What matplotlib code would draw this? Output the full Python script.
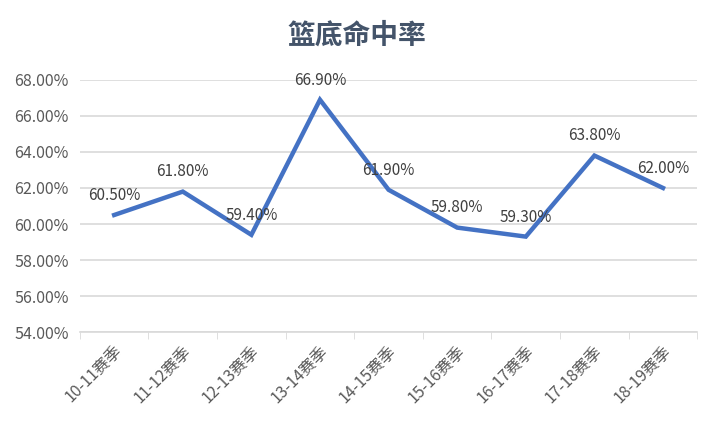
import matplotlib
matplotlib.use("Agg")
import matplotlib.pyplot as plt
import numpy as np

plt.rcParams['font.family'] = ['Noto Sans CJK SC', 'DejaVu Sans']

# data
seasons = ["10-11赛季", "11-12赛季", "12-13赛季", "13-14赛季", "14-15赛季",
           "15-16赛季", "16-17赛季", "17-18赛季", "18-19赛季"]
rates = [60.5, 61.8, 59.4, 66.9, 61.9, 59.8, 59.3, 63.8, 62.0]
y_ticks = [54, 56, 58, 60, 62, 64, 66, 68]

fig = plt.figure(figsize=(7.13, 4.23), dpi=100)
ax = fig.add_axes([0.112, 0.215, 0.866, 0.596])

x = np.arange(len(seasons))
ax.plot(x, rates, color="#4472C4", linewidth=3.2, solid_joinstyle="miter")

for xi, v in zip(x, rates):
    ax.annotate(f"{v:.2f}%", (xi, v), xytext=(0, 8), textcoords="offset points",
                ha="center", va="bottom", fontsize=11, color="#404040")

ax.set_xlim(-0.5, len(seasons) - 0.5)
ax.set_ylim(54, 68)
ax.set_yticks(y_ticks)
ax.set_yticklabels([f"{t:.2f}%" for t in y_ticks])
ax.set_xticks(x)
ax.set_xticklabels(seasons, rotation=45, ha="right", rotation_mode="anchor")
ax.set_xticks(np.arange(-0.5, len(seasons)), minor=True)

ax.grid(axis="y", color="#D9D9D9", linewidth=1.2)
ax.set_axisbelow(True)
for s in ["top", "right", "left"]:
    ax.spines[s].set_visible(False)
ax.spines["bottom"].set_color("#D9D9D9")
ax.spines["bottom"].set_linewidth(1.2)

ax.tick_params(axis="y", length=0, labelsize=11.5, labelcolor="#595959", pad=8)
ax.tick_params(axis="x", which="major", length=0, labelsize=11.5, labelcolor="#595959", pad=8)
ax.tick_params(axis="x", which="minor", length=5, color="#D9D9D9")

fig.text(0.5, 0.915, "篮底命中率", ha="center", va="center", fontsize=20,
         fontweight="bold", color="#44546A")

fig.savefig("out.png", dpi=100)
